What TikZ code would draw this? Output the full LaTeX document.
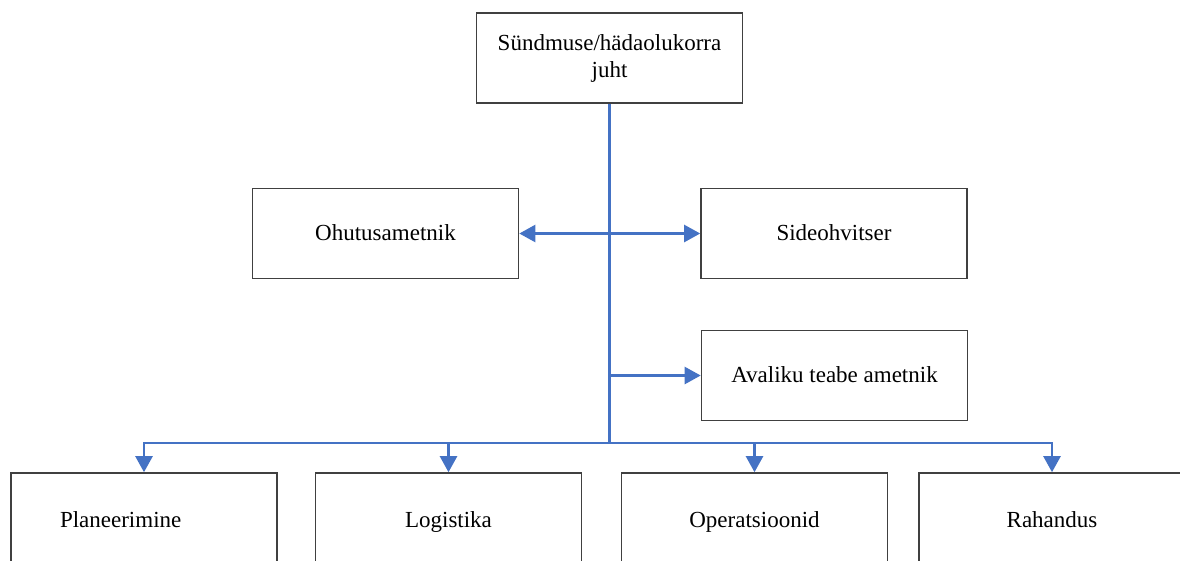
\documentclass[tikz,border=0pt]{standalone}
\usepackage{fontspec}
\setmainfont{Liberation Serif}
\usetikzlibrary{arrows.meta}
\definecolor{linkblue}{RGB}{68,114,196}
\definecolor{boxgray}{RGB}{64,64,64}
\begin{document}
\begin{tikzpicture}[x=1pt,y=-1pt,
  box/.style={draw=boxgray, line width=1.6pt, minimum width=266pt,
    minimum height=90pt, inner sep=0pt,
    font=\fontsize{23}{27}\selectfont, align=center},
  link/.style={draw=linkblue, line width=2.4pt},
  tip/.tip={Triangle[length=16pt,width=17pt]},
  arr/.style={link, -tip},
  ]
\clip (0,0) rectangle (1180,560);

% chief of the incident
\node[box] (head) at (609.5,58) {Sündmuse/hädaolukorra\\juht};

% command staff
\node[box, text height=13pt, text depth=0pt] (ohu) at (385.5,233.5) {Ohutusametnik};
\node[box, text height=13pt, text depth=0pt] (side) at (834,233.5) {Sideohvitser};
\node[box, text height=14pt, text depth=0pt] (aval) at (834.5,375.5) {Avaliku teabe ametnik};

% general staff sections
\node[box, text height=19pt, text depth=0pt, text width=168pt, inner xsep=49pt, align=left] (plan) at (144,518) {Planeerimine};
\node[box, text height=19pt, text depth=0pt] (logi) at (448.5,518) {Logistika};
\node[box, text height=19pt, text depth=0pt] (oper) at (754.5,518) {Operatsioonid};
\node[box, text height=19pt, text depth=0pt] (raha) at (1052,518) {Rahandus};

% connectors
\coordinate (bus) at (0,443);
\coordinate (hub) at (head.south |- bus);
\draw[link] (head.south) -- (hub);
\draw[link, tip-tip] (ohu.east) -- (side.west);
\draw[arr] (head.south |- aval.west) -- (aval.west);
\foreach \n in {plan,logi,oper,raha}
  \draw[arr] (hub) -| (\n.north);
\end{tikzpicture}
\end{document}
